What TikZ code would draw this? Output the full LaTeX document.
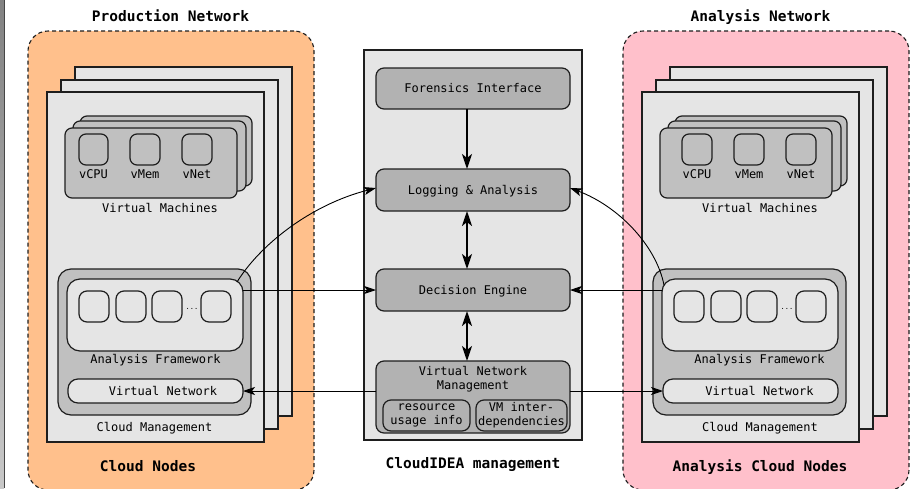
\documentclass[tikz,border=0pt]{standalone}
\usepackage{fontspec}
\setmainfont{DejaVu Sans Mono}
\usetikzlibrary{fit,arrows.meta}
\definecolor{orangefill}{RGB}{255,192,140}
\definecolor{pinkfill}{RGB}{255,192,203}
\definecolor{pagegray}{RGB}{229,229,229}
\definecolor{vmgray}{RGB}{192,192,192}
\definecolor{cgray}{RGB}{178,178,178}
\definecolor{edgec}{RGB}{30,30,30}
\definecolor{bartop}{RGB}{130,130,130}
\definecolor{barbot}{RGB}{200,200,200}
\definecolor{bardark}{RGB}{70,70,70}
\begin{document}
\begin{tikzpicture}[x=1pt,y=-1pt,
  bx/.style={inner sep=0pt, outer sep=0pt, draw=edgec},
  region/.style={bx, line width=1.1pt, dash pattern=on 4pt off 3pt, rounded corners=20pt},
  pagebox/.style={bx, line width=1.4pt, fill=pagegray},
  vmbox/.style={bx, line width=1.2pt, fill=vmgray, rounded corners=7pt},
  sqbox/.style={bx, line width=1.2pt, rounded corners=7pt},
  cmbox/.style={bx, line width=1.2pt, fill=vmgray, rounded corners=13pt},
  afbox/.style={bx, line width=1.2pt, fill=pagegray, rounded corners=13pt},
  sbbox/.style={bx, line width=1.2pt, rounded corners=8pt},
  vnbox/.style={bx, line width=1.2pt, fill=pagegray, rounded corners=10pt},
  cenbox/.style={bx, line width=1.3pt, fill=pagegray},
  cbox/.style={bx, line width=1.2pt, fill=cgray, rounded corners=8pt},
  subbox/.style={bx, line width=1.2pt, rounded corners=8pt},
  lbl/.style={font=\fontsize{12}{14}\selectfont, inner sep=0pt, text height=8.8pt, text depth=0pt},
  lbltwo/.style={font=\fontsize{12}{14}\selectfont, inner sep=0pt, align=center},
  ttl/.style={font=\fontsize{14.5}{17}\selectfont\bfseries, inner sep=0pt, text height=10.6pt, text depth=0pt},
  dotlbl/.style={font=\fontsize{7}{8}\selectfont, inner sep=0pt},
  thinarr/.style={line width=0.9pt, draw=black, -{Stealth[length=12pt,width=8pt,inset=3pt]}},
  thickarr/.style={line width=2.2pt, draw=black, -{Stealth[length=15pt,width=10pt,inset=4pt]}},
  thickdbl/.style={line width=2.2pt, draw=black, {Stealth[length=15pt,width=10pt,inset=4pt]}-{Stealth[length=15pt,width=10pt,inset=4pt]}}
]
\useasboundingbox (0,0) rectangle (911,488);
\clip (0,0) rectangle (911,488);
% left edge bar
\shade[top color=bartop, bottom color=barbot] (0,0) rectangle (4,488);
\draw[line width=1.3pt, draw=bardark] (4.6,0) -- (4.6,488);

% ===== Left: production network =====
\node[region, fill=orangefill, fit={(28,31) (314,490)}] (regL) {};
\node[pagebox, fit={(75,67) (292,416)}] (pgLc) {};
\node[pagebox, fit={(61,80) (278,429)}] (pgLb) {};
\node[pagebox, fit={(47,92) (264,442)}] (pgLa) {};
\node[vmbox, fit={(80,116) (252,186)}] (vmLc) {};
\node[vmbox, fit={(73,121) (246,191)}] (vmLb) {};
\node[vmbox, fit={(65,128) (237,198)}] (vmLa) {};
\node[sqbox, fit={(79,134) (108,165)}] (cpuL) {};
\node[sqbox, fit={(130,134) (160,165)}] (memL) {};
\node[sqbox, fit={(182,134) (212,165)}] (netL) {};
\node[lbl] (cpuLt) at (93.5,174) {vCPU};
\node[lbl] (memLt) at (145,174) {vMem};
\node[lbl] (netLt) at (197,174) {vNet};
\node[lbl] (vmLt) at (160,208) {Virtual Machines};
\node[cmbox, fit={(58,269) (251,415)}] (cmL) {};
\node[afbox, fit={(67,279) (243,351)}] (afL) {};
\node[sbbox, fit={(79,291) (109,322)}] (sbLa) {};
\node[sbbox, fit={(116,291) (146,322)}] (sbLb) {};
\node[sbbox, fit={(152,291) (182,322)}] (sbLc) {};
\node[sbbox, fit={(201,291) (231,322)}] (sbLd) {};
\node[dotlbl] (dotsL) at (192,309) {...};
\node[lbl] (afLt) at (155.5,359) {Analysis Framework};
\node[vnbox, fit={(68,379) (243,403)}] (vnL) {};
\node[lbl] (vnLt) at (163,391) {Virtual Network};
\node[lbl] (cmLt) at (154.5,427) {Cloud Management};
\node[ttl] (cnL) at (148,466) {Cloud Nodes};
\node[ttl] (pnL) at (170.5,16) {Production Network};

% ===== Right: analysis network =====
\node[region, fill=pinkfill, fit={(623,31) (909,490)}] (regR) {};
\node[pagebox, fit={(670,67) (887,416)}] (pgRc) {};
\node[pagebox, fit={(656,80) (873,429)}] (pgRb) {};
\node[pagebox, fit={(642,92) (859,442)}] (pgRa) {};
\node[vmbox, fit={(675,116) (847,186)}] (vmRc) {};
\node[vmbox, fit={(668,121) (841,191)}] (vmRb) {};
\node[vmbox, fit={(660,128) (832,198)}] (vmRa) {};
\node[sqbox, fit={(682,134) (712,165)}] (cpuR) {};
\node[sqbox, fit={(734,134) (764,165)}] (memR) {};
\node[sqbox, fit={(786,134) (816,165)}] (netR) {};
\node[lbl] (cpuRt) at (697,174) {vCPU};
\node[lbl] (memRt) at (749,174) {vMem};
\node[lbl] (netRt) at (801,174) {vNet};
\node[lbl] (vmRt) at (760,208) {Virtual Machines};
\node[cmbox, fit={(653,269) (846,415)}] (cmR) {};
\node[afbox, fit={(662,279) (838,351)}] (afR) {};
\node[sbbox, fit={(674,291) (704,322)}] (sbRa) {};
\node[sbbox, fit={(711,291) (741,322)}] (sbRb) {};
\node[sbbox, fit={(747,291) (777,322)}] (sbRc) {};
\node[sbbox, fit={(796,291) (826,322)}] (sbRd) {};
\node[dotlbl] (dotsR) at (787,309) {...};
\node[lbl] (afRt) at (759.5,359) {Analysis Framework};
\node[vnbox, fit={(663,379) (838,403)}] (vnR) {};
\node[lbl] (vnRt) at (759.5,391) {Virtual Network};
\node[lbl] (cmRt) at (760,427) {Cloud Management};
\node[ttl] (cnR) at (760,466) {Analysis Cloud Nodes};
\node[ttl] (anR) at (760.5,16) {Analysis Network};

% ===== Centre: CloudIDEA management =====
\node[cenbox, fit={(364,50) (582,440)}] (cen) {};
\node[cbox, fit={(376,68) (570,109)}] (fi) {};
\node[lbl] (fiT) at (fi) {Forensics Interface};
\node[cbox, fit={(376,169) (570,211)}] (lga) {};
\node[lbl] (lgaT) at (lga) {Logging \& Analysis};
\node[cbox, fit={(376,269) (570,311)}] (de) {};
\node[lbl] (deT) at (de) {Decision Engine};
\node[cbox, fit={(376,361) (570,433)}] (vnm) {};
\node[lbltwo] (vnmT) at (473,379) {Virtual Network\\Management};
\node[subbox, fit={(383,400) (470,431)}] (rs) {};
\node[lbltwo] (rsT) at (rs) {resource\\usage info};
\node[subbox, fit={(476,400) (567,431)}] (dep) {};
\node[lbltwo] (depT) at (dep) {VM inter-\\dependencies};
\node[ttl] (cmT) at (473,463) {CloudIDEA management};

% ===== connectors =====
\draw[thickarr] ([xshift=-6pt]fi.south) -- ([xshift=-6pt]lga.north);
\draw[thickdbl] ([xshift=-6pt]lga.south) -- ([xshift=-6pt]de.north);
\draw[thickdbl] ([xshift=-6pt]de.south) -- ([xshift=-6pt]vnm.north);

\draw[thinarr] ([shift={(-6,3)}]afL.north east) .. controls +(23,-37) and +(-66,17) .. ([shift={(0,-2)}]lga.west);
\draw[thinarr] ([shift={(2,6)}]afR.north west) .. controls +(-8,-40) and +(48,18) .. ([shift={(0,-2)}]lga.east);
\draw[thinarr] (afL.east |- de.west) -- (de.west);
\draw[thinarr] (afR.west |- de.east) -- (de.east);
\draw[thinarr] (vnL.east -| vnm.west) -- (vnL.east);
\draw[thinarr] (vnR.west -| vnm.east) -- (vnR.west);
\end{tikzpicture}
\end{document}
